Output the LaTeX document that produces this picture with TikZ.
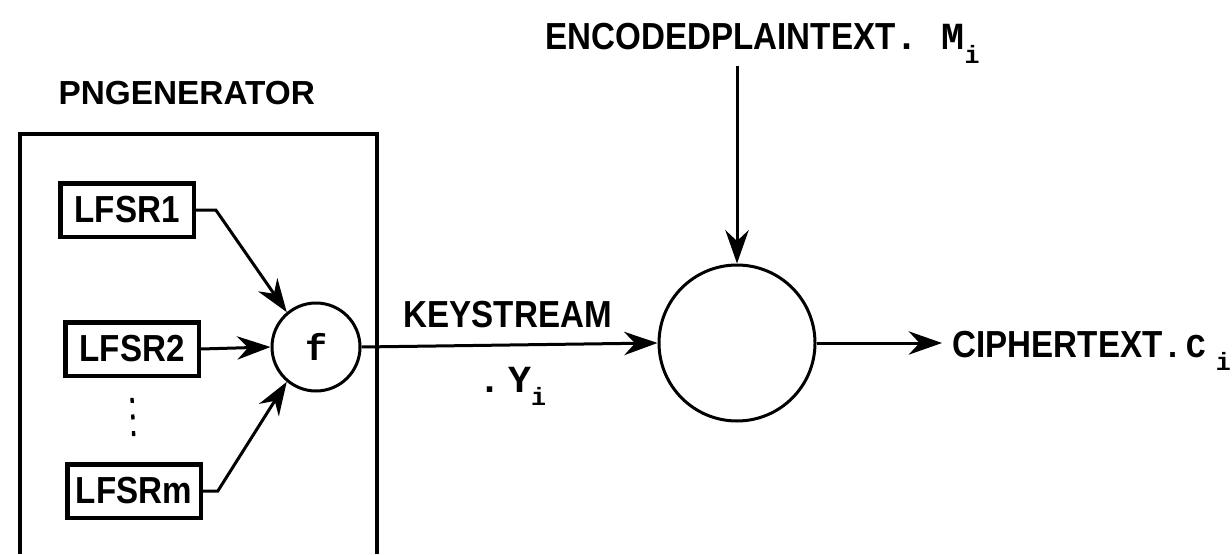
\documentclass[tikz,border=0pt]{standalone}
\usepackage{fontspec}
\setmainfont{Liberation Sans}
\setmonofont{Liberation Mono}
\newfontfamily\narrowsf[FakeStretch=0.88]{Liberation Sans}
\usetikzlibrary{arrows.meta,positioning}

\newcommand{\symfont}{\ttfamily\bfseries\fontsize{11.5}{13}\selectfont}
\newcommand{\subfont}{\ttfamily\bfseries\fontsize{7.5}{9}\selectfont}

\begin{document}
\begin{tikzpicture}[
    x=0.3pt, y=-0.3pt,
    % Node styles
    lfsr/.style={rectangle, draw=black, line width=1.3pt, minimum width=40pt, minimum height=16pt, inner sep=1pt, font=\narrowsf\bfseries\fontsize{11.3}{13}\selectfont},
    func/.style={circle, draw=black, line width=0.9pt, minimum size=26.4pt, inner sep=0pt, font=\ttfamily\bfseries\fontsize{11}{13}\selectfont},
    combiner/.style={circle, draw=black, line width=0.9pt, minimum size=46.8pt, inner sep=0pt},
    lbl/.style={inner sep=0pt, font=\narrowsf\bfseries\fontsize{11.3}{13}\selectfont},
    flow/.style={-{Stealth[length=10pt,width=7pt]}, line width=0.9pt}
]
\useasboundingbox (0,0) rectangle (1232,554);

% Generator block
\node[anchor=base west, inner sep=0pt, font=\bfseries\fontsize{10}{12}\selectfont] (pngtitle) at (58,105) {PNGENERATOR};
\draw[line width=1.3pt] (20,554) -- (20,134) -- (377,134) -- (377,554);

% Registers and combining function
\node[lfsr] (lfsr1) at (127,210) {LFSR1};
\node[lfsr] (lfsr2) at (132,349) {LFSR2};
\node[lfsr] (lfsrm) at (134,491) {LFSRm};
\node[func] (f) at (316,347) {f};

\draw[line width=1pt, dash pattern=on 1.5pt off 3.5pt] ([yshift=-6pt]lfsr2.south) -- ([yshift=6pt]lfsrm.north);

\draw[flow] (lfsr1.east) -- ++(20,0) -- (f.130);
\draw[flow] (lfsr2.east) -- (f.west);
\draw[flow] (lfsrm.east) -- ++(15,0) -- (f.230);

% Mixing with the plaintext
\node[combiner] (xor) at (737,343) {};
\node[lbl, anchor=base west] (ptext) at (545,50) {ENCODEDPLAINTEXT{\symfont. M}\raisebox{-4pt}{\subfont i}};
\coordinate (ptin) at (737,66);
\draw[flow] (ptin) -- (xor.north);

\draw[flow] (f.east) -- (xor.west);
\node[lbl, anchor=base west] (kslabel) at (403,327) {KEYSTREAM};
\node[anchor=base west, inner sep=0pt, font=\symfont] (ylabel) at (478,392) {.\,Y\raisebox{-4pt}{\subfont i}};

% Output
\node[lbl, anchor=base west] (ctext) at (952,357) {CIPHERTEXT{\ttfamily\bfseries\fontsize{10}{12}\selectfont.\hspace{1pt}C}\hspace{3pt}\raisebox{-4pt}{\subfont i}};
\coordinate (ctin) at (942,343);
\draw[flow] (xor.east) -- (ctin);

\end{tikzpicture}
\end{document}
